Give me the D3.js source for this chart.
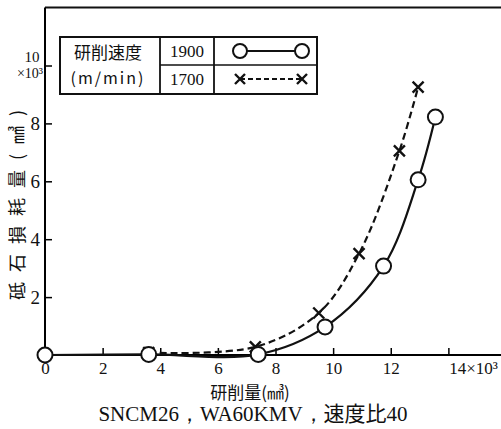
<!DOCTYPE html>
<html>
<head>
<meta charset="utf-8">
<script src="https://cdn.jsdelivr.net/npm/d3@7"></script>
<style>
  body { margin: 0; background: #fff; }
  svg { display: block; }
  .cjk { font-family: "Noto Sans CJK JP", sans-serif; }
  .serif { font-family: "Liberation Serif", serif; }
</style>
</head>
<body>
<div id="chart"></div>
<script>
// grinding amount (x10^3 mm3) vs wheel wear (x10^3 mm3)
const speed1900X = [0, 3.6, 7.4, 9.72, 11.75, 12.95, 13.55];
const speed1900Y = [0, 0.02, 0.02, 0.97, 3.07, 6.05, 8.22];
const speed1700X = [3.6, 7.3, 9.5, 10.9, 12.3, 12.95];
const speed1700Y = [0.08, 0.28, 1.45, 3.5, 7.05, 9.25];
const xTicks = [0, 2, 4, 6, 8, 10, 12, 14];
const yTicks = [2, 4, 6, 8, 10];
const legendRows = ["1900", "1700"];

const width = 501, height = 429;
const svg = d3.select("#chart").append("svg").attr("width", width).attr("height", height);

const x = d3.scaleLinear().domain([0, 16]).range([45, 506]);
const y = d3.scaleLinear().domain([0, 12]).range([355, 7.6]);

// top line of the frame
svg.append("line").attr("x1", 45).attr("x2", width).attr("y1", y(12)).attr("y2", y(12))
    .attr("stroke", "#111").attr("stroke-width", 2);

const xAxis = svg.append("g").attr("transform", "translate(0," + y(0) + ")")
    .call(d3.axisBottom(x).tickValues(xTicks).tickSize(-7).tickPadding(7)
        .tickFormat(d => d === 14 ? "14×10³" : d));
xAxis.select(".domain").attr("stroke-width", 2).attr("d", "M45,0H" + width);
xAxis.selectAll(".tick line").attr("stroke-width", 1.5);
xAxis.selectAll(".tick text").style("font-family", "'Liberation Serif', serif").style("font-size", "17px").attr("fill", "#111");
xAxis.selectAll(".tick text").filter(d => d === 14).attr("dx", "1.45em");

const yAxis = svg.append("g").attr("transform", "translate(45,0)")
    .call(d3.axisLeft(y).tickValues(yTicks).tickSize(-7).tickPadding(5)
        .tickFormat(d => d === 10 ? "" : d));
yAxis.select(".domain").attr("stroke-width", 2).attr("d", "M0," + y(0) + "V" + y(12));
yAxis.selectAll(".tick line").attr("stroke-width", 1.5);
yAxis.selectAll(".tick text").style("font-family", "'Liberation Serif', serif").style("font-size", "19px").attr("fill", "#111");
yAxis.append("text").attr("x", -13).attr("y", y(10) - 4)
    .style("font-family", "'Liberation Serif', serif").style("font-size", "15px")
    .attr("text-anchor", "middle").attr("fill", "#111").text("10");
yAxis.append("text").attr("x", -15).attr("y", y(10) + 12)
    .style("font-family", "'Liberation Serif', serif").style("font-size", "14px")
    .attr("text-anchor", "middle").attr("fill", "#111").text("×10³");

// curves
const line = d3.line().x(d => x(d[0])).y(d => y(d[1])).curve(d3.curveCatmullRom.alpha(0.5));
const pts1900 = speed1900X.map((v, i) => [v, speed1900Y[i]]);
const pts1700 = speed1700X.map((v, i) => [v, speed1700Y[i]]);

svg.append("path").datum(pts1700).attr("d", line).attr("fill", "none")
    .attr("stroke", "#111").attr("stroke-width", 2.2).attr("stroke-dasharray", "7,4");
svg.append("path").datum(pts1900).attr("d", line).attr("fill", "none")
    .attr("stroke", "#111").attr("stroke-width", 2.2);

function cross(g, cx, cy, s) {
    g.append("path")
        .attr("d", "M" + (cx - s) + "," + (cy - s) + "L" + (cx + s) + "," + (cy + s) +
            "M" + (cx - s) + "," + (cy + s) + "L" + (cx + s) + "," + (cy - s))
        .attr("stroke", "#111").attr("stroke-width", 2.4).attr("fill", "none");
}
const marks = svg.append("g");
pts1700.forEach(p => cross(marks, x(p[0]), y(p[1]), 5.5));
marks.selectAll("circle").data(pts1900).join("circle")
    .attr("cx", d => x(d[0])).attr("cy", d => y(d[1])).attr("r", 7.5)
    .attr("fill", "#fff").attr("stroke", "#111").attr("stroke-width", 2);

// legend table
const lg = svg.append("g");
lg.append("rect").attr("x", 60).attr("y", 37).attr("width", 257).attr("height", 57)
    .attr("fill", "#fff").attr("stroke", "#111").attr("stroke-width", 2);
lg.append("line").attr("x1", 160).attr("x2", 160).attr("y1", 37).attr("y2", 94).attr("stroke", "#111").attr("stroke-width", 1.8);
lg.append("line").attr("x1", 214).attr("x2", 214).attr("y1", 37).attr("y2", 94).attr("stroke", "#111").attr("stroke-width", 1.8);
lg.append("line").attr("x1", 160).attr("x2", 317).attr("y1", 65).attr("y2", 65).attr("stroke", "#111").attr("stroke-width", 1.5);
lg.append("text").attr("class", "cjk").attr("x", 108).attr("y", 59).attr("text-anchor", "middle")
    .style("font-size", "17px").attr("fill", "#111").text("研削速度");
lg.append("text").attr("class", "cjk").attr("x", 108).attr("y", 84).attr("text-anchor", "middle")
    .style("font-size", "16px").attr("letter-spacing", "2px").attr("fill", "#111").text("(m/min)");
legendRows.forEach((t, i) => {
    const cy = 51 + i * 28;
    lg.append("text").attr("class", "serif").attr("x", 187).attr("y", cy + 6).attr("text-anchor", "middle")
        .style("font-size", "17px").attr("fill", "#111").text(t);
    lg.append("line").attr("x1", 240).attr("x2", 302).attr("y1", cy).attr("y2", cy)
        .attr("stroke", "#111").attr("stroke-width", 2)
        .attr("stroke-dasharray", i === 0 ? null : "5,3");
    if (i === 0) {
        [240, 302].forEach(cx => lg.append("circle").attr("cx", cx).attr("cy", cy).attr("r", 7)
            .attr("fill", "#fff").attr("stroke", "#111").attr("stroke-width", 2));
    } else {
        [240, 302].forEach(cx => cross(lg, cx, cy, 5));
    }
});

// axis titles
svg.append("text").attr("class", "cjk").attr("x", 250).attr("y", 399).attr("text-anchor", "middle")
    .style("font-size", "17px").attr("fill", "#111").text("研削量(㎣)");
svg.append("text").attr("class", "cjk").attr("transform", "translate(24,200) rotate(-90)")
    .attr("text-anchor", "middle").style("font-size", "18px").attr("fill", "#111")
    .attr("letter-spacing", "10px").text("砥石損耗量(㎣)");
const cap = svg.append("text").attr("x", 253).attr("y", 421).attr("text-anchor", "middle")
    .style("font-size", "21px").attr("fill", "#111");
cap.append("tspan").attr("class", "serif").text("SNCM26，WA60KMV，");
cap.append("tspan").attr("class", "cjk").text("速度比");
cap.append("tspan").attr("class", "serif").text("40");
</script>
</body>
</html>
